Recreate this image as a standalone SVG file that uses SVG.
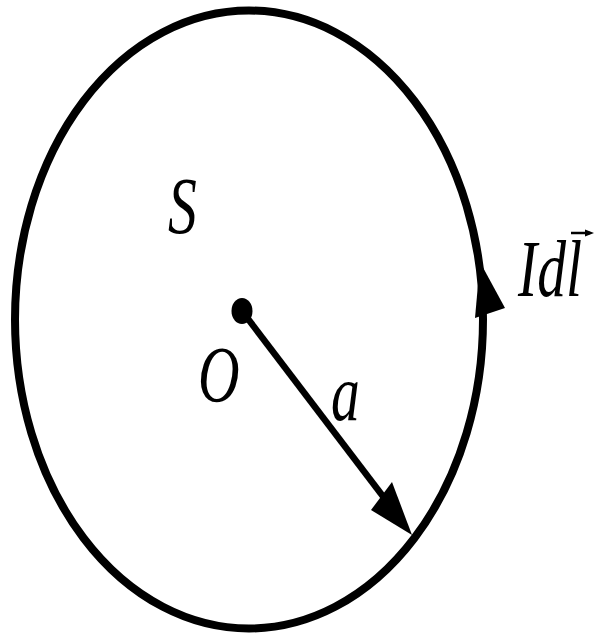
<svg xmlns="http://www.w3.org/2000/svg" width="595" height="634" viewBox="0 0 595 634">
<style>
.lbl{font-family:"Liberation Serif","Times New Roman",serif;font-style:italic;font-size:80px;fill:#000}
.ln{stroke:#000;fill:none}
</style>
<rect width="595" height="634" fill="#fff"/>
<g id="loop">
<ellipse cx="249" cy="319.5" rx="234" ry="309" class="ln" stroke-width="8"/>
<path d="M480,262 L475,318 L505,308 Z" fill="#000"/>
</g>
<g id="center">
<ellipse cx="242" cy="311" rx="10.5" ry="13" fill="#000"/>
</g>
<g id="connectors">
<line x1="242" y1="311" x2="385" y2="499" class="ln" stroke-width="6.5"/>
<path d="M412,535 L392,482 L371,510 Z" fill="#000"/>
</g>
<g id="labels">
<text class="lbl" transform="translate(168,233) scale(0.72,1)">S</text>
<text class="lbl" transform="translate(198,402) scale(0.72,1)">O</text>
<text class="lbl" transform="translate(331,420) scale(0.72,1)">a</text>
<text class="lbl" transform="translate(518,296) scale(0.72,1)">Idl</text>
<line x1="571" y1="233" x2="590" y2="233" class="ln" stroke-width="2.5"/>
<path d="M594,233 L585,229.5 L585,236.5 Z" fill="#000"/>
</g>
</svg>
